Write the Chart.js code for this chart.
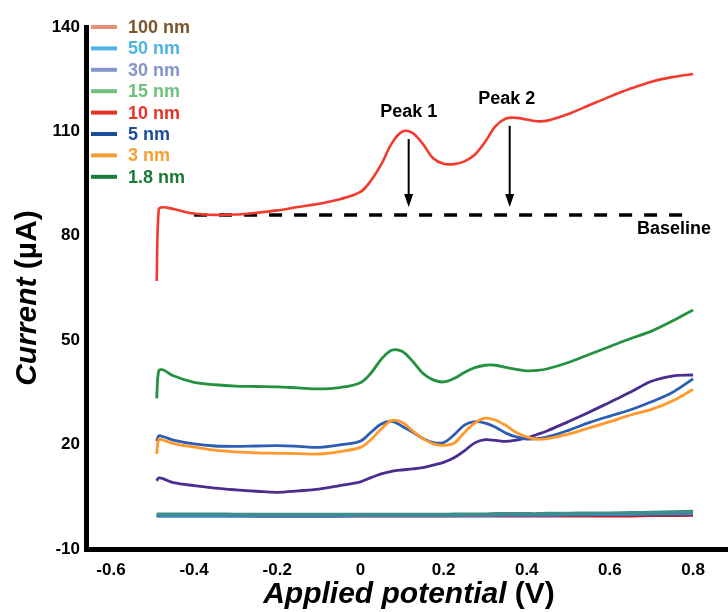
<!DOCTYPE html>
<html>
<head>
<meta charset="utf-8">
<script src="https://cdn.jsdelivr.net/npm/chart.js@4.4.1/dist/chart.umd.min.js"></script>
<style>
  html, body { margin: 0; padding: 0; background: #fff; }
  #wrap { width: 728px; height: 612px; position: relative; }
</style>
</head>
<body>
<div id="wrap"><canvas id="cv"></canvas></div>
<script>
// Applied potential (V), shared by every trace
const potential = [-0.49, -0.485, -0.475, -0.45, -0.4, -0.35, -0.3, -0.25, -0.2, -0.15, -0.1, -0.05,
  0, 0.025, 0.05, 0.075, 0.1, 0.125, 0.15, 0.175, 0.2, 0.225, 0.25, 0.275, 0.3, 0.325, 0.35, 0.375,
  0.4, 0.425, 0.45, 0.5, 0.55, 0.6, 0.65, 0.7, 0.75, 0.8];

// Current (µA) per film thickness
const cur10nm = [67, 87.6, 88.2, 87.7, 86.4, 86.0, 86.1, 86.6, 87.3, 88.3, 89.2, 90.5,
  92.6, 95.8, 100.5, 106.5, 109.9, 109.6, 106.4, 102.3, 100.7, 100.6, 101.4, 103.3, 107, 111.5, 113.7, 113.9,
  113.4, 112.9, 113.1, 115, 117.5, 120, 122.3, 124.3, 125.6, 126.5];
const cur1p8nm = [33.3, 41.2, 41.5, 39.8, 37.9, 37.2, 36.8, 36.7, 36.6, 36.3, 36.0, 36.4,
  37.8, 40.5, 44.5, 47.1, 46.8, 44.0, 40.5, 38.6, 38.0, 39.0, 40.7, 42.1, 42.8, 42.8, 42.2, 41.6,
  41.2, 41.3, 41.8, 43.6, 45.9, 48.2, 50.5, 52.6, 55.5, 58.7];
const cur5nm = [21.0, 22.5, 22.3, 21.3, 20.2, 19.6, 19.5, 19.6, 19.7, 19.5, 19.2, 19.9,
  21.0, 23.5, 25.9, 26.7, 25.3, 23.6, 21.8, 20.6, 20.6, 22.8, 25.6, 26.6, 26.2, 25.0, 23.3, 22.2,
  21.6, 21.7, 22.2, 24.1, 26.3, 28.2, 30.0, 32.3, 35.0, 38.9];
const cur3nm = [17.3, 21.5, 21.3, 20.3, 19.3, 18.4, 17.9, 17.6, 17.5, 17.4, 17.3, 18.0,
  19.2, 21.4, 24.5, 26.9, 26.4, 24.0, 21.8, 20.2, 19.8, 20.4, 23.5, 26.2, 27.6, 27.0, 25.5, 23.5,
  22.2, 21.5, 21.7, 23.0, 24.8, 26.6, 28.5, 30.1, 32.5, 35.9];
const cur30nm = [9.6, 10.4, 10.2, 9.1, 8.2, 7.5, 7.0, 6.6, 6.3, 6.7, 7.2, 8.2,
  9.3, 10.5, 11.6, 12.3, 12.7, 13.0, 13.4, 14.1, 14.9, 16.2, 18.2, 20.5, 21.4, 21.2, 20.9, 21.3,
  21.9, 22.9, 24.0, 26.6, 29.3, 32.2, 35.1, 38.2, 39.7, 40.0];
const cur15nm = [0.0, 0.0, 0.0, 0.0, 0.0, 0.0, -0.1, -0.1, -0.1, -0.1, -0.1, -0.1,
  -0.1, -0.1, -0.1, -0.1, -0.1, -0.1, -0.1, -0.1, -0.1, 0.0, 0.0, 0.0, 0.0, 0.1, 0.1, 0.1,
  0.1, 0.1, 0.2, 0.2, 0.3, 0.3, 0.4, 0.5, 0.6, 0.8];
const cur50nm = [-0.5, -0.5, -0.5, -0.5, -0.5, -0.5, -0.5, -0.5, -0.5, -0.5, -0.5, -0.5,
  -0.4, -0.4, -0.4, -0.4, -0.4, -0.4, -0.4, -0.4, -0.4, -0.4, -0.3, -0.3, -0.3, -0.3, -0.2, -0.2,
  -0.2, -0.2, -0.2, -0.1, -0.1, 0.0, 0.0, 0.1, 0.1, 0.2];
const cur100nm = [-0.4, -0.4, -0.4, -0.4, -0.4, -0.4, -0.4, -0.5, -0.5, -0.5, -0.5, -0.5,
  -0.5, -0.5, -0.5, -0.5, -0.5, -0.5, -0.5, -0.5, -0.5, -0.5, -0.5, -0.5, -0.5, -0.5, -0.5, -0.5,
  -0.5, -0.5, -0.5, -0.5, -0.5, -0.5, -0.5, -0.4, -0.4, -0.3];

// Legend entries, top to bottom
const legendLabels = ['100 nm', '50 nm', '30 nm', '15 nm', '10 nm', '5 nm', '3 nm', '1.8 nm'];

// Axis ticks
const xTicks = [-0.6, -0.4, -0.2, 0, 0.2, 0.4, 0.6, 0.8];
const yTicks = [-10, 20, 50, 80, 110, 140];

// Dashed baseline under the 10 nm trace
const baselinePot = [-0.4, 0.8];
const baselineCur = [86, 86];

// Peak markers on the 10 nm trace
const peakLabels = ['Peak 1', 'Peak 2'];
const peakPot = [0.116, 0.359];
const peakCur = [110.1, 113.9];

const FONT = "'Liberation Sans', Arial, Helvetica, sans-serif";

// Line colour on the plot vs. swatch/text colour in the legend
const legendStyle = {
  '100 nm': { line: '#e98c7a', text: '#7b5527' },
  '50 nm':  { line: '#4fb4e3', text: '#4fb4e3' },
  '30 nm':  { line: '#8595ca', text: '#8595ca' },
  '15 nm':  { line: '#6fc07e', text: '#6fc07e' },
  '10 nm':  { line: '#e43428', text: '#e43428' },
  '5 nm':   { line: '#1f4c9c', text: '#1f4c9c' },
  '3 nm':   { line: '#f4a132', text: '#f4a132' },
  '1.8 nm': { line: '#1c7a38', text: '#1c7a38' }
};

function toPoints(ys) {
  return potential.map((x, i) => ({ x, y: ys[i] }));
}

function trace(label, ys, color, width) {
  return {
    label,
    data: toPoints(ys),
    borderColor: color,
    borderWidth: width,
    pointRadius: 0,
    fill: false,
    tension: 0.35
  };
}

// first dataset is drawn on top
const datasets = [
  trace('10 nm', cur10nm, '#f23b2f', 2.6),
  trace('1.8 nm', cur1p8nm, '#23913f', 2.8),
  trace('3 nm', cur3nm, '#ff992c', 2.8),
  trace('5 nm', cur5nm, '#2b5eb4', 2.8),
  trace('30 nm', cur30nm, '#4b2d90', 2.8),
  trace('15 nm', cur15nm, '#3e8f8c', 3.5),
  trace('50 nm', cur50nm, '#3b7fc4', 3.5),
  trace('100 nm', cur100nm, '#b3202f', 3),
  {
    label: 'Baseline',
    data: baselinePot.map((x, i) => ({ x, y: baselineCur[i] })),
    borderColor: '#000',
    borderWidth: 3.5,
    borderDash: [13, 12],
    pointRadius: 0,
    fill: false
  }
];

// Legend drawn inside the plot, top left
const legendPlugin = {
  id: 'thicknessLegend',
  afterDraw(chart) {
    const ctx = chart.ctx;
    ctx.save();
    ctx.font = `bold 18px ${FONT}`;
    ctx.textBaseline = 'middle';
    ctx.textAlign = 'left';
    legendLabels.forEach((name, i) => {
      const st = legendStyle[name];
      const y = 27 + i * 21.4;
      ctx.strokeStyle = st.line;
      ctx.lineWidth = 4;
      ctx.beginPath();
      ctx.moveTo(91, y);
      ctx.lineTo(117, y);
      ctx.stroke();
      ctx.fillStyle = st.text;
      ctx.fillText(name, 128, y + 1);
    });
    ctx.restore();
  }
};

// Peak labels, arrows down to the baseline and the "Baseline" tag
const peakPlugin = {
  id: 'peakMarks',
  afterDatasetsDraw(chart) {
    const { ctx, scales: { x, y } } = chart;
    const yBase = y.getPixelForValue(baselineCur[0]);
    ctx.save();
    ctx.fillStyle = '#000';
    ctx.strokeStyle = '#000';
    ctx.font = `bold 18px ${FONT}`;
    ctx.textAlign = 'center';
    ctx.textBaseline = 'middle';
    peakLabels.forEach((txt, i) => {
      const px = x.getPixelForValue(peakPot[i]);
      const py = y.getPixelForValue(peakCur[i]);
      ctx.fillText(txt, px - 3 * i, py - 19);
      const tip = yBase - 8;
      ctx.lineWidth = 2;
      ctx.beginPath();
      ctx.moveTo(px, py + 8);
      ctx.lineTo(px, tip - 10);
      ctx.stroke();
      ctx.beginPath();
      ctx.moveTo(px, tip);
      ctx.lineTo(px - 4.5, tip - 13);
      ctx.lineTo(px + 4.5, tip - 13);
      ctx.closePath();
      ctx.fill();
    });
    ctx.textAlign = 'right';
    ctx.fillText('Baseline', x.getPixelForValue(baselinePot[1]) + 18, yBase + 14);
    ctx.restore();
  }
};

// Axis titles with mixed italic / upright parts
const titlePlugin = {
  id: 'axisTitles',
  afterDraw(chart) {
    const ctx = chart.ctx;
    const drawMixed = (parts, cx, cy) => {
      let total = 0;
      parts.forEach(p => { ctx.font = p.font; p.w = ctx.measureText(p.text).width; total += p.w; });
      let pos = cx - total / 2;
      parts.forEach(p => { ctx.font = p.font; ctx.fillText(p.text, pos, cy); pos += p.w; });
    };
    ctx.save();
    ctx.fillStyle = '#000';
    ctx.textAlign = 'left';
    ctx.textBaseline = 'alphabetic';
    drawMixed([
      { text: 'Applied potential ', font: `italic bold 30px ${FONT}` },
      { text: '(V)', font: `bold 30px ${FONT}` }
    ], 409, 603);
    ctx.translate(36, 298);
    ctx.rotate(-Math.PI / 2);
    drawMixed([
      { text: 'Current ', font: `italic bold 30px ${FONT}` },
      { text: '(µA)', font: `bold 30px ${FONT}` }
    ], 0, 0);
    ctx.restore();
  }
};

const tickFont = { family: FONT, size: 17, weight: 'bold' };

new Chart(document.getElementById('cv'), {
  type: 'line',
  data: { datasets },
  options: {
    responsive: true,
    maintainAspectRatio: false,
    animation: false,
    layout: { padding: { top: 27, left: 0, right: 0, bottom: 0 } },
    plugins: {
      legend: { display: false },
      tooltip: { enabled: false }
    },
    scales: {
      x: {
        type: 'linear',
        min: -0.66,
        max: 0.884,
        grid: { display: false, drawTicks: false },
        border: { display: true, color: '#000', width: 5 },
        afterBuildTicks: s => { s.ticks = xTicks.map(v => ({ value: v })); },
        afterFit: s => { s.height = 63; },
        ticks: {
          color: '#000',
          font: tickFont,
          padding: 11,
          maxRotation: 0,
          callback: v => String(v)
        }
      },
      y: {
        type: 'linear',
        min: -10,
        max: 140,
        grid: { display: false, drawTicks: false },
        border: { display: true, color: '#000', width: 5 },
        afterBuildTicks: s => { s.ticks = yTicks.map(v => ({ value: v })); },
        afterFit: s => { s.width = 86; },
        ticks: {
          color: '#000',
          font: tickFont,
          padding: 6,
          callback: v => String(v)
        }
      }
    }
  },
  plugins: [legendPlugin, peakPlugin, titlePlugin]
});
</script>
</body>
</html>
